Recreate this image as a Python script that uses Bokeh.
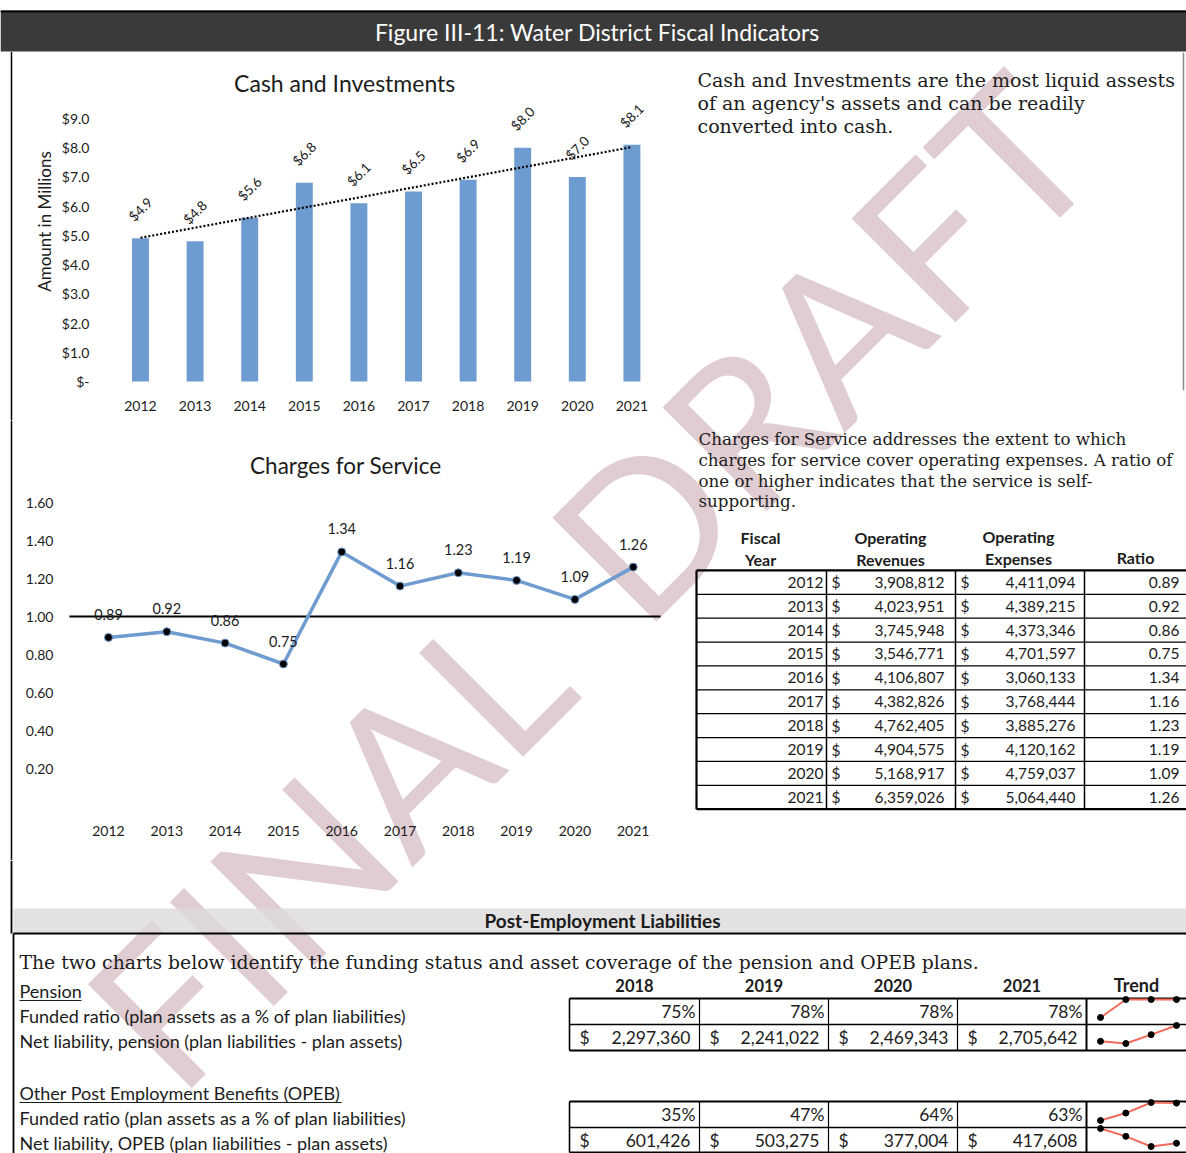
import numpy as np
from bokeh.plotting import figure
from bokeh.models import Range1d, FixedTicker, ColumnDataSource
from bokeh.layouts import column, row
from bokeh.embed import file_html
from bokeh.resources import INLINE
from bokeh.core.properties import value

# ---------------- data ----------------
years = [2012, 2013, 2014, 2015, 2016, 2017, 2018, 2019, 2020, 2021]
cash = [4.9, 4.8, 5.6, 6.8, 6.1, 6.5, 6.9, 8.0, 7.0, 8.1]
cash_ticks = [0, 1, 2, 3, 4, 5, 6, 7, 8, 9]
ratio = [0.89, 0.92, 0.86, 0.75, 1.34, 1.16, 1.23, 1.19, 1.09, 1.26]
ratio_ticks = [0.2, 0.4, 0.6, 0.8, 1.0, 1.2, 1.4, 1.6]
threshold = 1.0
revenues = [3908812, 4023951, 3745948, 3546771, 4106807, 4382826, 4762405, 4904575, 5168917, 6359026]
expenses = [4411094, 4389215, 4373346, 4701597, 3060133, 3768444, 3885276, 4120162, 4759037, 5064440]
pe_years = [2018, 2019, 2020, 2021]
pension_funded = [75, 78, 78, 78]
pension_net = [2297360, 2241022, 2469343, 2705642]
opeb_funded = [35, 47, 64, 63]
opeb_net = [601426, 503275, 377004, 417608]
watermark_words = ["FINAL", "DRAFT"]

SANS = value("Lato")
SERIF = value("DejaVu Serif")
BLUE = "#6e9bd0"
INK = "#1c1c1c"
RED = "#f26a5a"


def base(w, h, xr, yr, **kw):
    p = figure(width=w, height=h, x_range=xr, y_range=yr, output_backend="svg",
               toolbar_location=None, background_fill_color=None,
               border_fill_color=None, **kw)
    p.outline_line_color = None
    p.xgrid.visible = False
    p.ygrid.visible = False
    return p


def plain(w, h, xr, yr, **kw):
    return base(w, h, xr, yr, x_axis_location=None, y_axis_location=None, min_border=0, **kw)


def style_axes(p, size):
    for ax in (p.xaxis, p.yaxis):
        ax.axis_line_color = None
        ax.major_tick_line_color = None
        ax.minor_tick_line_color = None
        ax.major_label_text_font = "Lato"
        ax.major_label_text_color = INK
        ax.major_label_text_font_size = size


# ---------------- watermark layer (behind everything, whole page) ----------------
pw = plain(1186, 1153, Range1d(0, 1186), Range1d(1153, 0),
           styles={"position": "absolute", "top": "0px", "left": "0px", "z-index": "-1"})
pw.text(x=[325, 820], y=[842, 345], text=watermark_words, angle=np.pi / 4, text_font=SANS,
        text_font_size="205px", text_color="#e0cdd1", text_align="center",
        text_baseline="middle")

# ---------------- title bar ----------------
pt = plain(1186, 52, Range1d(0, 1186), Range1d(52, 0))
pt.quad(left=[0], right=[1186], top=[10], bottom=[51], fill_color="#3a3a3a", line_color=None)
pt.segment(x0=[0], x1=[1186], y0=[11], y1=[11], line_color="black", line_width=2)
pt.text(x=[597], y=[31], text=["Figure III-11: Water District Fiscal Indicators"],
        text_font=SANS, text_font_size="23px", text_color="white",
        text_align="center", text_baseline="middle")

# ---------------- bar chart ----------------
pb = base(680, 368, Range1d(2011.414, 2021.89), Range1d(-0.308, 11.259),
          min_border_left=108, min_border_right=0, min_border_top=0, min_border_bottom=30)
pb.extra_x_ranges = {"px": Range1d(108, 680)}
pb.extra_y_ranges = {"px": Range1d(390, 52)}
pb.vbar(x=years, top=cash, width=0.31, fill_color=BLUE, line_color=None)
fit = np.polyfit(years, cash, 1)
tx = [years[0], years[-1]]
pb.line(x=tx, y=list(np.polyval(fit, tx)), line_color="black", line_width=2.2,
        line_dash="2 2")
pb.text(x=years, y=cash, text=[f"${v:.1f}" for v in cash], angle=np.pi / 4,
        text_align="center", text_baseline="middle", y_offset=-29,
        text_font=SANS, text_font_size="13.5px", text_color=INK)
pb.text(x=[2015.74], y=[10.23], text=["Cash and Investments"], text_font=SANS,
        text_font_size="23px", text_color=INK, text_align="center", text_baseline="middle")
pb.yaxis.ticker = FixedTicker(ticks=cash_ticks)
pb.yaxis.major_label_overrides = {t: ("$-" if t == 0 else f"${t:.1f}") for t in cash_ticks}
pb.xaxis.ticker = FixedTicker(ticks=years)
pb.xaxis.major_label_overrides = {y: str(y) for y in years}
pb.yaxis.axis_label = "Amount in Millions"
pb.yaxis.axis_label_text_font = "Lato"
pb.yaxis.axis_label_text_font_style = "normal"
pb.yaxis.axis_label_text_font_size = "17px"
pb.yaxis.axis_label_text_color = INK
pb.yaxis.axis_label_standoff = 4
pb.yaxis.major_label_standoff = 13
pb.xaxis.major_label_standoff = 4
style_axes(pb, "14px")
pb.segment(x0=[11], x1=[11], y0=[50], y1=[420], x_range_name="px", y_range_name="px",
           line_color="black", line_width=1.5, level="overlay")

# ---------------- text 1 ----------------
p1 = plain(506, 368, Range1d(680, 1186), Range1d(420, 52))
lines1 = ["Cash and Investments are the most liquid assests",
          "of an agency's assets and can be readily",
          "converted into cash."]
p1.text(x=[697] * 3, y=[82, 107, 132], text=lines1, text_font=SERIF, text_font_size="19px",
        text_color=INK, text_baseline="middle")
p1.segment(x0=[1183], x1=[1183], y0=[52], y1=[420], line_color="#888888", line_width=1.5)

# ---------------- line chart ----------------
pl = base(680, 440, Range1d(2011.2796, 2021.811), Range1d(-0.04737, 2.0316),
          min_border_left=66, min_border_right=0, min_border_top=0, min_border_bottom=45)
pl.extra_x_ranges = {"px": Range1d(66, 680)}
pl.extra_y_ranges = {"px": Range1d(815, 420)}
pl.segment(x0=[years[0] - 0.67], x1=[years[-1] + 0.47], y0=[threshold], y1=[threshold],
           line_color="black", line_width=1.8)
pl.line(x=years, y=ratio, line_color=BLUE, line_width=3.5)
pl.scatter(x=years, y=ratio, size=8, fill_color="black", line_color=BLUE, line_width=1)
pl.text(x=years, y=ratio, text=[f"{v:.2f}" for v in ratio], y_offset=-23,
        text_align="center", text_baseline="middle", text_font=SANS,
        text_font_size="14.5px", text_color=INK)
pl.text(x=[2016.07], y=[1.795], text=["Charges for Service"], text_font=SANS,
        text_font_size="22.5px", text_color=INK, text_align="center", text_baseline="middle")
pl.yaxis.ticker = FixedTicker(ticks=ratio_ticks)
pl.yaxis.major_label_overrides = {t: f"{t:.2f}" for t in ratio_ticks}
pl.xaxis.ticker = FixedTicker(ticks=years)
pl.xaxis.major_label_overrides = {y: str(y) for y in years}
pl.yaxis.major_label_standoff = 7
pl.xaxis.major_label_standoff = 4
style_axes(pl, "14px")
pl.segment(x0=[11], x1=[11], y0=[420], y1=[860], x_range_name="px", y_range_name="px",
           line_color="black", line_width=1.5, level="overlay")

# ---------------- text 2 + table ----------------
p2 = plain(506, 440, Range1d(680, 1186), Range1d(860, 420))
lines2 = ["Charges for Service addresses the extent to which",
          "charges for service cover operating expenses. A ratio of",
          "one or higher indicates that the service is self-",
          "supporting."]
p2.text(x=[698] * 4, y=[441, 464, 487, 510], text=lines2, text_font=SERIF,
        text_font_size="16.7px", text_color=INK, text_baseline="middle")
hx = [760, 890, 1018, 1135]
p2.text(x=hx[:3], y=[550, 550, 549], text=["Fiscal", "Operating", "Operating"], text_font=SANS,
        text_font_size="16px", text_font_style="bold", text_color=INK,
        text_align="center", text_baseline="middle")
p2.text(x=hx, y=[575, 575, 574, 573], text=["Year", "Revenues", "Expenses", "Ratio"],
        text_font=SANS, text_font_size="16px", text_font_style="bold", text_color=INK,
        text_align="center", text_baseline="middle")
top, rh = 587.0, 26.6
n = len(years)
ry = [top + rh * (i + 0.5) for i in range(n)]
src = ColumnDataSource(dict(
    y=ry, year=[str(y) for y in years],
    rev=[f"{v:,}" for v in revenues], exp=[f"{v:,}" for v in expenses],
    rat=[f"{r:.2f}" for r in ratio], dol=["$"] * n))
common = dict(source=src, y="y", text_font=SANS, text_font_size="15.5px", text_color=INK,
              text_baseline="middle")
p2.text(x=823, text="year", text_align="right", **common)
p2.text(x=831, text="dol", text_align="left", **common)
p2.text(x=944, text="rev", text_align="right", **common)
p2.text(x=960, text="dol", text_align="left", **common)
p2.text(x=1075, text="exp", text_align="right", **common)
p2.text(x=1179, text="rat", text_align="right", **common)
hy = [top + rh * i for i in range(n + 1)]
p2.segment(x0=[696] * (n + 1), x1=[1186] * (n + 1), y0=hy, y1=hy, line_color="black",
           line_width=[2.2] + [1.3] * (n - 1) + [2.2])
vx = [696, 826, 955, 1084]
p2.segment(x0=vx, x1=vx, y0=[top] * 4, y1=[hy[-1]] * 4, line_color="black",
           line_width=[2.2, 1.5, 1.5, 1.5])

# ---------------- post-employment section ----------------
pp = plain(1186, 293, Range1d(0, 1186), Range1d(1153, 860))
pp.quad(left=[13], right=[1186], top=[908], bottom=[932], fill_color="#dcdada", line_color=None,
        fill_alpha=0.8)
pp.text(x=[602], y=[920], text=["Post-Employment Liabilities"], text_font=SANS,
        text_font_size="19px", text_font_style="bold", text_color=INK,
        text_align="center", text_baseline="middle")
pp.segment(x0=[13], x1=[1186], y0=[933], y1=[933], line_color="black", line_width=2)
pp.segment(x0=[11, 13], x1=[11, 13], y0=[860, 933], y1=[933, 1153], line_color="black",
           line_width=1.8)
pp.text(x=[19], y=[962], text=["The two charts below identify the funding status and asset coverage of the pension and OPEB plans."],
        text_font=SERIF, text_font_size="18.8px", text_color=INK, text_baseline="middle")
lab = ["Pension",
       "Funded ratio (plan assets as a % of plan liabilities)",
       "Net liability, pension (plan liabilities - plan assets)",
       "Other Post Employment Benefits (OPEB)",
       "Funded ratio  (plan assets as a % of plan liabilities)",
       "Net liability, OPEB (plan liabilities - plan assets)"]
pp.text(x=[19] * 6, y=[990, 1015, 1040, 1092, 1117, 1142], text=lab, text_font=SANS,
        text_font_size="18px", text_color=INK, text_baseline="middle")
pp.segment(x0=[19, 19], x1=[81, 341], y0=[1000, 1102], y1=[1000, 1102], line_color=INK,
           line_width=1.2)
colx = [569, 699, 828, 957, 1086]
ccx = [(colx[i] + colx[i + 1]) / 2 for i in range(4)]
pp.text(x=ccx, y=[985] * 4, text=[str(y) for y in pe_years],
        text_font=SANS, text_font_size="16.5px", text_font_style="bold", text_color=INK,
        text_align="center", text_baseline="middle")
pp.text(x=[1136], y=[984], text=["Trend"],
        text_font=SANS, text_font_size="18px", text_font_style="bold", text_color=INK,
        text_align="center", text_baseline="middle")


def table_block(t, funded, net):
    pp.text(x=[c - 4 for c in colx[1:]], y=[t + 13] * 4, text=[f"{v}%" for v in funded],
            text_font=SANS, text_font_size="17.5px", text_color=INK,
            text_align="right", text_baseline="middle")
    pp.text(x=[c + 10 for c in colx[:4]], y=[t + 39] * 4, text=["$"] * 4,
            text_font=SANS, text_font_size="17.5px", text_color=INK,
            text_align="left", text_baseline="middle")
    pp.text(x=[c - 9 for c in colx[1:]], y=[t + 39] * 4, text=[f"{v:,}" for v in net],
            text_font=SANS, text_font_size="17.5px", text_color=INK,
            text_align="right", text_baseline="middle")
    ys = [t, t + 26, min(t + 52, 1152)]
    pp.segment(x0=[colx[0]] * 3, x1=[1186] * 3, y0=ys, y1=ys, line_color="black",
               line_width=[2, 1.6, 2])
    pp.segment(x0=colx, x1=colx, y0=[t] * 5, y1=[ys[-1]] * 5, line_color="black",
               line_width=[1.6, 1.2, 1.2, 1.2, 2])


table_block(998, pension_funded, pension_net)
table_block(1101, opeb_funded, opeb_net)

# sparklines drawn through extra ranges
idx = list(range(len(pe_years)))
k_x = (1176 - 1100) / (len(idx) - 1)
pp.extra_x_ranges = {"spark": Range1d(0 - 1100 / k_x, idx[-1] + (1186 - 1176) / k_x)}
ranges = {}
spark = [("pf", pension_funded, 998), ("pn", pension_net, 1024),
         ("of", opeb_funded, 1101), ("on", opeb_net, 1127)]
for name, vals, t in spark:
    lo, hi = min(vals), max(vals)
    k = 18.0 / (hi - lo)
    ranges[name] = Range1d(lo - (1153 - (t + 19)) / k, hi + ((t + 1) - 860) / k)
pp.extra_y_ranges = ranges
for name, vals, t in spark:
    pp.line(x=idx, y=vals, x_range_name="spark", y_range_name=name, line_color=RED,
            line_width=2)
    pp.scatter(x=idx, y=vals, x_range_name="spark", y_range_name=name, size=6,
               fill_color="black", line_color="black")

layout = column(pt, row(pb, p1), row(pl, p2), pp)
open("out.html", "w").write(file_html([layout, pw], INLINE))
